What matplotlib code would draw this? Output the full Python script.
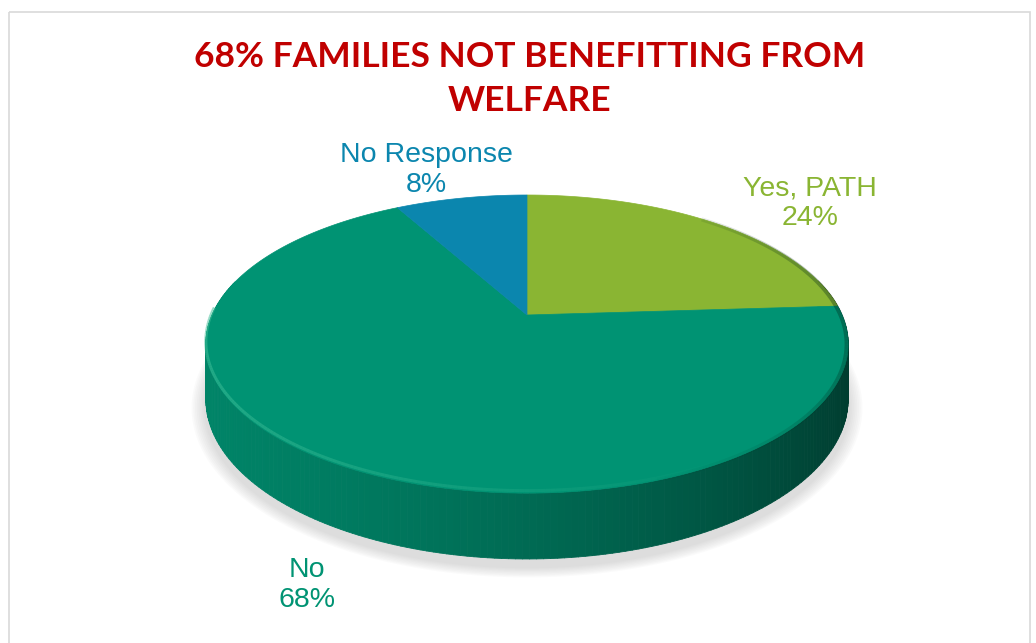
import numpy as np
import matplotlib
matplotlib.use("Agg")
import matplotlib.pyplot as plt
from matplotlib.patches import Polygon, Rectangle
from matplotlib.collections import PolyCollection, LineCollection
from matplotlib.colors import to_rgb

# --- data -------------------------------------------------------------
labels = ["Yes, PATH", "No", "No Response"]
shares = [24, 68, 8]
colors = ["#8AB533", "#009373", "#0B86AE"]
title = "68% FAMILIES NOT BENEFITTING FROM\nWELFARE"
label_pos = [(810, 203), (307, 585), (426, 170)]

# --- canvas (pixel coordinates, y down) -------------------------------
W, H = 1036, 643
fig = plt.figure(figsize=(W / 100, H / 100), dpi=100)
ax = fig.add_axes([0, 0, 1, 1])
ax.set_xlim(0, W)
ax.set_ylim(H, 0)
ax.axis("off")

ax.add_patch(Rectangle((8.5, 11.5), 1021, 700, fill=False,
                       edgecolor="#D9D9D9", lw=1.2))

# --- perspective disc -------------------------------------------------
CX, CY = 527, 315          # projected centre of the top face
A, B, K = 315, 143.4, 0.195  # horizontal / vertical scale, perspective
DEPTH = 53                 # thickness of the disc


def project(theta, drop=0.0):
    X = np.cos(theta)
    Y = np.sin(theta)
    w = 1 + K * Y
    return CX + A * X / w, CY - B * Y / w + drop / w


fracs = np.array(shares, dtype=float) / sum(shares)
bounds = np.pi / 2 - 2 * np.pi * np.concatenate([[0], np.cumsum(fracs)])

# soft shadow under the disc
full = np.linspace(0, 2 * np.pi, 400)
for i, grow in enumerate(np.linspace(14, 2, 8)):
    X = np.cos(full)
    Y = np.sin(full)
    w = 1 + K * Y
    sx = CX + (A + grow) * X / w
    sy = CY - (B + grow * 0.6) * Y / w + (DEPTH + 4) / w + 3
    ax.add_patch(Polygon(np.column_stack([sx, sy]), closed=True,
                         facecolor="#9A9A9A", edgecolor="none",
                         alpha=0.045, zorder=1))

# side wall, drawn back to front
quads, qcols, depth_key = [], [], []
for i in range(len(shares)):
    t = np.linspace(bounds[i], bounds[i + 1], 240)
    base = np.array(to_rgb(colors[i]))
    for a0, a1 in zip(t[:-1], t[1:]):
        am = 0.5 * (a0 + a1)
        if np.sin(am) > 0.25:
            continue
        x0, y0 = project(a0)
        x1, y1 = project(a1)
        x0b, y0b = project(a0, DEPTH)
        x1b, y1b = project(a1, DEPTH)
        quads.append([(x0, y0), (x1, y1), (x1b, y1b), (x0b, y0b)])
        u = (np.cos(am) + 1) / 2
        shade = 0.90 - 0.50 * u ** 1.5
        qcols.append(tuple(base * shade))
        depth_key.append(np.sin(am))
order = np.argsort(depth_key)[::-1]
ax.add_collection(PolyCollection([quads[j] for j in order],
                                 facecolors=[qcols[j] for j in order],
                                 edgecolors=[qcols[j] for j in order],
                                 linewidths=0.6, zorder=2))

# top face slices
for i in range(len(shares)):
    t = np.linspace(bounds[i], bounds[i + 1], 200)
    px, py = project(t)
    pts = np.vstack([[CX, CY], np.column_stack([px, py])])
    ax.add_patch(Polygon(pts, closed=True, facecolor=colors[i],
                         edgecolor=colors[i], lw=0.5, zorder=3))

# bevel highlight along the front rim
t = np.linspace(np.radians(178), np.radians(330), 200)
px, py = project(t)
py = py - 2.5
segs = [[(px[j], py[j]), (px[j + 1], py[j + 1])] for j in range(len(t) - 1)]
fade = np.clip(1 - (np.cos(t[:-1]) + 1) / 2 * 1.3, 0, 1)
ax.add_collection(LineCollection(segs, colors=[(0.25, 0.75, 0.6, 0.55 * f) for f in fade],
                                 linewidths=2.2, zorder=4))

# darker rim on the right-hand edge
t = np.linspace(np.radians(50), np.radians(-70), 200)
px, py = project(t)
segs = [[(px[j] - 1.5, py[j]), (px[j + 1] - 1.5, py[j + 1])] for j in range(len(t) - 1)]
strength = np.clip(np.cos(t[:-1]) ** 3, 0, 1)
ax.add_collection(LineCollection(segs, colors=[(0, 0.15, 0.1, 0.35 * s) for s in strength],
                                 linewidths=3, zorder=4))

# --- text -------------------------------------------------------------
ax.text(530, 79, title, ha="center", va="center", color="#C00000",
        fontsize=25.5, fontweight="bold", family="Lato", linespacing=1.45)

for lab, share, col, (lx, ly) in zip(labels, shares, colors, label_pos):
    ax.text(lx, ly, f"{lab}\n{share}%", ha="center", va="center",
            color=col, fontsize=20.5, family="Liberation Sans",
            linespacing=1.17, zorder=5)

fig.savefig("out.png", dpi=100)
